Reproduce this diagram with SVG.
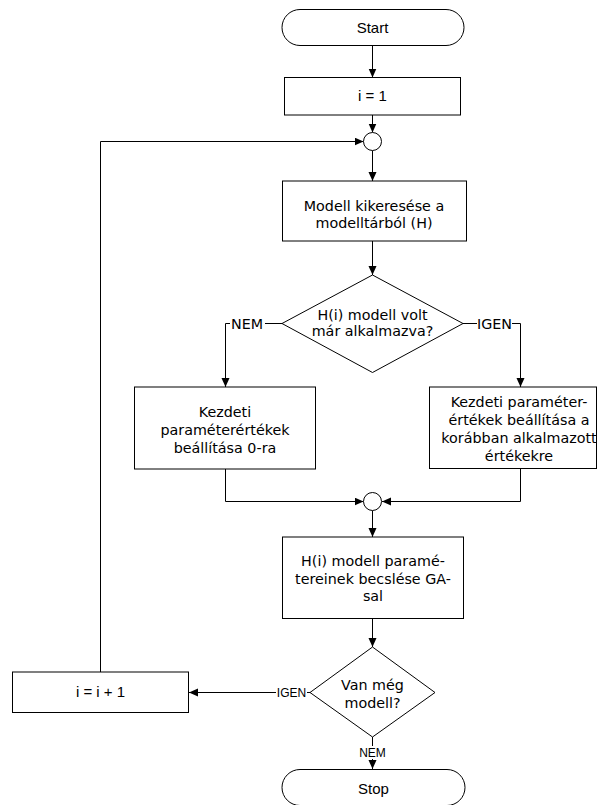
<svg xmlns="http://www.w3.org/2000/svg" width="601" height="805" viewBox="0 0 601 805">
<style>
.shape{fill:#fff;stroke:#000;stroke-width:1}
.conn{fill:none;stroke:#000;stroke-width:1}
.t{font-family:"DejaVu Sans","Noto Sans",sans-serif;font-size:14.3px;fill:#000;text-anchor:middle}
.a{font-family:"Liberation Sans",Arial,sans-serif;font-size:15px;fill:#000;text-anchor:middle}
.s{font-family:"Liberation Sans",Arial,sans-serif;font-size:12px;fill:#000;text-anchor:middle}
</style>
<defs>
<marker id="arr" markerUnits="userSpaceOnUse" markerWidth="10" markerHeight="10" refX="9" refY="4" orient="auto">
<path d="M0,0 L9,4 L0,8 z" fill="#000"/>
</marker>
</defs>
<rect width="601" height="805" fill="#fff"/>
<g id="connectors">
<path class="conn" d="M372.5,45.5 V77.5" marker-end="url(#arr)"/>
<path class="conn" d="M372.5,115 V132.5" marker-end="url(#arr)"/>
<path class="conn" d="M372.5,150.5 V181" marker-end="url(#arr)"/>
<path class="conn" d="M372.5,241 V275" marker-end="url(#arr)"/>
<path class="conn" d="M282,323.5 H265"/>
<path class="conn" d="M230,323.5 H225.5 V387" marker-end="url(#arr)"/>
<path class="conn" d="M463,323.5 H477"/>
<path class="conn" d="M512,323.5 H520.5 V387" marker-end="url(#arr)"/>
<path class="conn" d="M225.5,469 V501.5 H363.5" marker-end="url(#arr)"/>
<path class="conn" d="M520.5,468.5 V501.5 H382" marker-end="url(#arr)"/>
<path class="conn" d="M372.5,510.5 V537" marker-end="url(#arr)"/>
<path class="conn" d="M372.5,618.5 V647" marker-end="url(#arr)"/>
<path class="conn" d="M310,692.5 H307"/>
<path class="conn" d="M276,692.5 H189" marker-end="url(#arr)"/>
<path class="conn" d="M100.5,672 V141.5 H363.5" marker-end="url(#arr)"/>
<path class="conn" d="M372.5,737 V746"/>
<path class="conn" d="M372.5,759 V769" marker-end="url(#arr)"/>
<text class="t" x="247" y="328.5">NEM</text>
<text class="t" x="494.5" y="328.5">IGEN</text>
<text class="s" x="291.5" y="696.5">IGEN</text>
<text class="s" x="372.5" y="757">NEM</text>
</g>
<g id="start">
<rect class="shape" x="282" y="9.5" width="182" height="36" rx="18" ry="18"/>
<text class="a" x="372.5" y="33">Start</text>
</g>
<g id="init">
<rect class="shape" x="284.5" y="77.5" width="176" height="37.5"/>
<text class="a" x="372.5" y="101">i = 1</text>
</g>
<g id="join1">
<circle class="shape" cx="372.5" cy="141.5" r="9"/>
</g>
<g id="lookup">
<rect class="shape" x="282.5" y="181" width="184" height="60"/>
<text class="t" x="374" y="211">Modell kikeresése a</text>
<text class="t" x="374" y="228">modelltárból (H)</text>
</g>
<g id="decision1">
<polygon class="shape" points="372.5,275 463,323.5 372.5,372.5 282,323.5"/>
<text class="t" x="372.5" y="319.5">H(i) modell volt</text>
<text class="t" x="372.5" y="336">már alkalmazva?</text>
</g>
<g id="init-zero">
<rect class="shape" x="134.5" y="387" width="181" height="82"/>
<text class="t" x="225" y="416.5">Kezdeti</text>
<text class="t" x="225" y="434.5">paraméterértékek</text>
<text class="t" x="225" y="452.5">beállítása 0-ra</text>
</g>
<g id="init-prev">
<rect class="shape" x="429.5" y="387" width="167" height="81.5"/>
<text class="t" x="519" y="406.5">Kezdeti paraméter-</text>
<text class="t" x="519" y="424.5">értékek beállítása a</text>
<text class="t" x="519" y="442.5">korábban alkalmazott</text>
<text class="t" x="519" y="460.5">értékekre</text>
</g>
<g id="join2">
<circle class="shape" cx="372.5" cy="501.5" r="9"/>
</g>
<g id="estimate">
<rect class="shape" x="282.5" y="537" width="181" height="81.5"/>
<text class="t" x="373" y="566">H(i) modell paramé-</text>
<text class="t" x="373" y="583.5">tereinek becslése GA-</text>
<text class="t" x="373" y="601">sal</text>
</g>
<g id="decision2">
<polygon class="shape" points="372.5,647 435,692.5 372.5,737 310,692.5"/>
<text class="t" x="372.5" y="690">Van még</text>
<text class="t" x="372.5" y="708">modell?</text>
</g>
<g id="increment">
<rect class="shape" x="12.5" y="672" width="176" height="40.5"/>
<text class="a" x="100.5" y="697">i = i + 1</text>
</g>
<g id="stop">
<rect class="shape" x="282" y="769.5" width="183" height="36" rx="18" ry="18"/>
<text class="a" x="373.5" y="793.5">Stop</text>
</g>
</svg>
